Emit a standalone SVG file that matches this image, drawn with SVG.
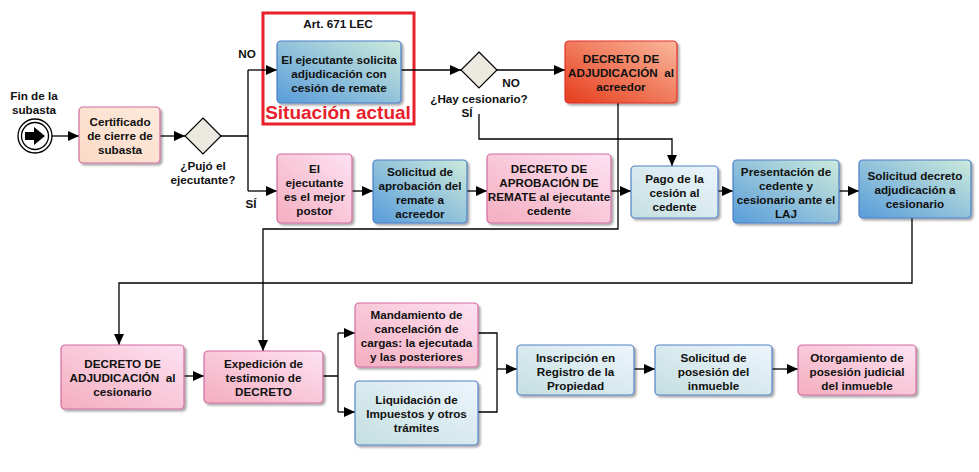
<svg xmlns="http://www.w3.org/2000/svg" width="979" height="472" viewBox="0 0 979 472">
  <defs>
    <linearGradient id="gBlue" x1="1" y1="0" x2="0" y2="1">
      <stop offset="0" stop-color="#cdeadb"/>
      <stop offset="1" stop-color="#589cda"/>
    </linearGradient>
    <linearGradient id="gPink" x1="1" y1="0" x2="0" y2="1">
      <stop offset="0" stop-color="#fde2f2"/>
      <stop offset="1" stop-color="#f4aec0"/>
    </linearGradient>
    <linearGradient id="gLight" x1="1" y1="0" x2="0" y2="1">
      <stop offset="0" stop-color="#edf5fd"/>
      <stop offset="1" stop-color="#c4dfe0"/>
    </linearGradient>
    <linearGradient id="gPeach" x1="1" y1="0" x2="0" y2="1">
      <stop offset="0" stop-color="#fdeadc"/>
      <stop offset="1" stop-color="#fbdac6"/>
    </linearGradient>
    <linearGradient id="gRed" x1="1" y1="0" x2="0" y2="1">
      <stop offset="0" stop-color="#fab89c"/>
      <stop offset="1" stop-color="#e63c1c"/>
    </linearGradient>
    <filter id="shadow" x="-10%" y="-10%" width="125%" height="130%">
      <feDropShadow dx="2" dy="2" stdDeviation="1" flood-color="#000" flood-opacity="0.35"/>
    </filter>
    <marker id="arrow" markerWidth="11" markerHeight="10" refX="11" refY="5" orient="auto" markerUnits="userSpaceOnUse">
      <path d="M0,0 L11,5 L0,10 Z" fill="#000"/>
    </marker>
  </defs>
  <style>
    text { font-family: "Liberation Sans", Arial, sans-serif; font-weight: bold; font-size: 11.7px; fill: #111; text-anchor: middle; }
    .pre { white-space: pre; }
    .box { stroke-width: 1.2; filter: url(#shadow); }
    .blue { fill: url(#gBlue); stroke: #4a7ec6; }
    .pink { fill: url(#gPink); stroke: #d26ca2; }
    .light { fill: url(#gLight); stroke: #5282c8; }
    .peach { fill: url(#gPeach); stroke: #d26ca2; }
    .red { fill: url(#gRed); stroke: #e2302a; }
    .gate { fill: #ece9e1; stroke: #000; stroke-width: 1.2; }
    .conn { fill: none; stroke: #000; stroke-width: 1.3; }
    .arr { marker-end: url(#arrow); }
  </style>

  <!-- highlight frame -->
  <g id="highlight">
    <rect x="263" y="13" width="151" height="111" fill="none" stroke="#e8202a" stroke-width="3"/>
    <text x="338" y="28">Art. 671 LEC</text>
    <text x="338" y="119" style="font-size:19px; fill:#e8202a">Situación actual</text>
  </g>

  <!-- connectors -->
  <g id="connectors">
    <path class="conn arr" d="M52,136 H79"/>
    <path class="conn arr" d="M160,136 H185"/>
    <path class="conn" d="M221,136 H248 M248,70 V191"/>
    <path class="conn arr" d="M248,70 H277"/>
    <path class="conn arr" d="M248,191 H277"/>
    <path class="conn arr" d="M401,70 H461"/>
    <path class="conn arr" d="M497,70 H565"/>
    <path class="conn arr" d="M479,114 V139 H672 V166"/>
    <path class="conn arr" d="M618,103 V229 H263 V351"/>
    <path class="conn arr" d="M352,191 H373"/>
    <path class="conn arr" d="M467,191 H487"/>
    <path class="conn arr" d="M611,191 H631"/>
    <path class="conn arr" d="M718,191 H733"/>
    <path class="conn arr" d="M839,191 H859"/>
    <path class="conn arr" d="M912,218 V283 H119 V345"/>
    <path class="conn arr" d="M184,376 H204"/>
    <path class="conn" d="M323,376 H338 M338,333 V412"/>
    <path class="conn arr" d="M338,333 H355"/>
    <path class="conn arr" d="M338,412 H355"/>
    <path class="conn" d="M478,333 H497 V412 H478"/>
    <path class="conn arr" d="M497,369 H517"/>
    <path class="conn arr" d="M634,369 H655"/>
    <path class="conn arr" d="M772,369 H798"/>
    <text x="247" y="58">NO</text>
    <text x="251" y="208">SÍ</text>
    <text x="511" y="87">NO</text>
    <text x="467" y="117">SÍ</text>
  </g>

  <!-- start event -->
  <g id="start">
    <circle cx="35" cy="136" r="17" fill="#fff" stroke="#000" stroke-width="1.3"/>
    <circle cx="35" cy="136" r="13.5" fill="#fff" stroke="#000" stroke-width="1.3"/>
    <path d="M25,132 H34 V127 L45,136 L34,145 V140 H25 Z" fill="#000"/>
    <text x="34" y="100">Fin de la</text>
    <text x="34" y="114">subasta</text>
  </g>

  <g id="certificado">
    <rect class="box peach" x="79" y="107" width="81" height="56" rx="4"/>
    <text x="120" y="126">Certificado</text>
    <text x="120" y="140">de cierre de</text>
    <text x="120" y="154">subasta</text>
  </g>

  <g id="gw-pujo">
    <path class="gate" d="M203,118 L221,136 L203,154 L185,136 Z"/>
    <text x="203" y="170">¿Pujó el</text>
    <text x="203" y="184">ejecutante?</text>
  </g>

  <g id="solicita-cesion">
    <rect class="box blue" x="277" y="41" width="124" height="62" rx="4"/>
    <text x="339" y="64">El ejecutante solicita</text>
    <text x="339" y="78">adjudicación con</text>
    <text x="339" y="92">cesión de remate</text>
  </g>

  <g id="gw-cesionario">
    <path class="gate" d="M479,52 L497,70 L479,88 L461,70 Z"/>
    <text x="479" y="103">¿Hay cesionario?</text>
  </g>

  <g id="decreto-acreedor">
    <rect class="box red" x="565" y="41" width="112" height="62" rx="4"/>
    <text x="621" y="63">DECRETO DE</text>
    <text class="pre" x="621" y="77">ADJUDICACIÓN  al</text>
    <text x="621" y="91">acreedor</text>
  </g>

  <g id="mejor-postor">
    <rect class="box pink" x="277" y="154" width="75" height="69" rx="4"/>
    <text x="314.5" y="173">El</text>
    <text x="314.5" y="187">ejecutante</text>
    <text x="314.5" y="201">es el mejor</text>
    <text x="314.5" y="215">postor</text>
  </g>

  <g id="solicitud-aprobacion">
    <rect class="box blue" x="373" y="160" width="94" height="63" rx="4"/>
    <text x="420" y="176">Solicitud de</text>
    <text x="420" y="190">aprobación del</text>
    <text x="420" y="204">remate a</text>
    <text x="420" y="218">acreedor</text>
  </g>

  <g id="decreto-aprobacion">
    <rect class="box pink" x="487" y="154" width="124" height="69" rx="4"/>
    <text x="549" y="173">DECRETO DE</text>
    <text x="549" y="187">APROBACIÓN DE</text>
    <text x="549" y="201">REMATE al ejecutante</text>
    <text x="549" y="215">cedente</text>
  </g>

  <g id="pago-cesion">
    <rect class="box light" x="631" y="166" width="87" height="52" rx="4"/>
    <text x="674.5" y="183">Pago de la</text>
    <text x="674.5" y="197">cesión al</text>
    <text x="674.5" y="211">cedente</text>
  </g>

  <g id="presentacion">
    <rect class="box blue" x="733" y="160" width="106" height="63" rx="4"/>
    <text x="786" y="176">Presentación de</text>
    <text x="786" y="190">cedente y</text>
    <text x="786" y="204">cesionario ante el</text>
    <text x="786" y="218">LAJ</text>
  </g>

  <g id="solicitud-decreto">
    <rect class="box blue" x="859" y="160" width="112" height="58" rx="4"/>
    <text x="915" y="180">Solicitud decreto</text>
    <text x="915" y="194">adjudicación a</text>
    <text x="915" y="208">cesionario</text>
  </g>

  <g id="decreto-cesionario">
    <rect class="box pink" x="61" y="345" width="123" height="64" rx="4"/>
    <text x="122.5" y="368">DECRETO DE</text>
    <text class="pre" x="122.5" y="382">ADJUDICACIÓN  al</text>
    <text x="122.5" y="396">cesionario</text>
  </g>

  <g id="expedicion">
    <rect class="box pink" x="204" y="351" width="119" height="52" rx="4"/>
    <text x="263.5" y="368">Expedición de</text>
    <text x="263.5" y="382">testimonio de</text>
    <text x="263.5" y="396">DECRETO</text>
  </g>

  <g id="mandamiento">
    <rect class="box pink" x="355" y="303" width="123" height="64" rx="4"/>
    <text x="416.5" y="319">Mandamiento de</text>
    <text x="416.5" y="333">cancelación de</text>
    <text x="416.5" y="347">cargas: la ejecutada</text>
    <text x="416.5" y="361">y las posteriores</text>
  </g>

  <g id="liquidacion">
    <rect class="box light" x="355" y="381" width="123" height="64" rx="4"/>
    <text x="416.5" y="404">Liquidación de</text>
    <text x="416.5" y="418">Impuestos y otros</text>
    <text x="416.5" y="432">trámites</text>
  </g>

  <g id="inscripcion">
    <rect class="box light" x="517" y="345" width="117" height="50" rx="4"/>
    <text x="575.5" y="362">Inscripción en</text>
    <text x="575.5" y="376">Registro de la</text>
    <text x="575.5" y="390">Propiedad</text>
  </g>

  <g id="solicitud-posesion">
    <rect class="box light" x="655" y="345" width="117" height="50" rx="4"/>
    <text x="713.5" y="362">Solicitud de</text>
    <text x="713.5" y="376">posesión del</text>
    <text x="713.5" y="390">inmueble</text>
  </g>

  <g id="otorgamiento">
    <rect class="box pink" x="798" y="345" width="118" height="50" rx="4"/>
    <text x="857" y="362">Otorgamiento de</text>
    <text x="857" y="376">posesión judicial</text>
    <text x="857" y="390">del inmueble</text>
  </g>
</svg>
